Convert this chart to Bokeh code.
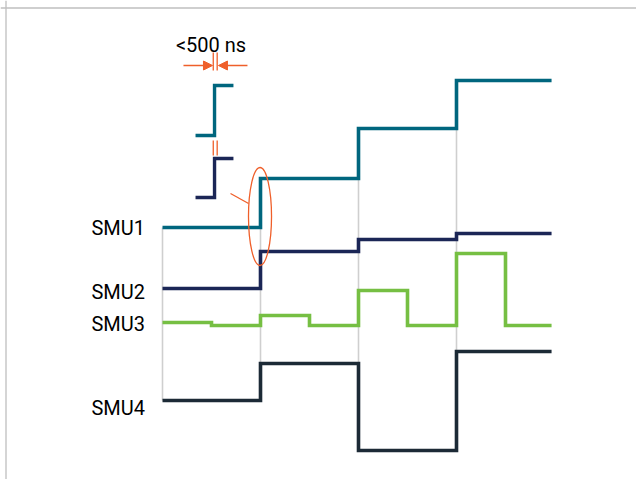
from bokeh.plotting import figure
from bokeh.models import Range1d, Span, Arrow, NormalHead
from bokeh.core.properties import value
from bokeh.embed import file_html
from bokeh.resources import INLINE

# ---- data (time in step units, level in arbitrary units) ----
t_edges = [0, 1, 2, 3, 3.97]
smu1 = [26.0, 30.9, 35.9, 40.7]
smu2 = [19.9, 23.6, 24.8, 25.4]
smu4 = [8.7, 12.4, 3.7, 13.6]
t_half = [0, 0.5, 1, 1.5, 2, 2.5, 3, 3.5, 3.97]
smu3 = [16.5, 16.2, 17.2, 16.2, 19.7, 16.2, 23.4, 16.2]

labels = ["SMU1", "SMU2", "SMU3", "SMU4"]
label_y = [25.95, 19.55, 16.37, 7.95]

# inset illustrating skew between channels
inset_t = [0.337, 0.531, 0.531, 0.724]
inset_a = [35.2, 35.2, 40.2, 40.2]
inset_b = [29.0, 29.0, 32.9, 32.9]
skew_label = "<500 ns"

TEAL = "#00667e"
NAVY = "#1b2656"
GREEN = "#76bf43"
DARK = "#1c2a36"
ORANGE = "#ef5f2a"
GRID = "#cfcfcf"

W, H = 636, 479
X0 = (0 - 162) / 98
p = figure(width=W, height=H, output_backend="svg", toolbar_location=None,
           x_range=Range1d(X0, X0 + W / 98),
           y_range=Range1d((487 - H) / 10, 48.7),
           x_axis_location=None, y_axis_location=None, min_border=0)
p.grid.visible = False
p.outline_line_color = None
p.background_fill_color = "white"

# frame
p.add_layout(Span(location=(5.5 - 162) / 98, dimension="height", line_color="#bfbfbf", line_width=1.3))
p.add_layout(Span(location=(487 - 7.5) / 10, dimension="width", line_color="#bfbfbf", line_width=1.3))

# gray time markers
gx = t_edges[:4]
y0 = [smu1[max(i - 1, 0)] for i in range(4)]
y1 = [smu4[i] for i in range(4)]
p.segment(x0=gx, y0=y0, x1=gx, y1=y1, line_color=GRID, line_width=1.6)

def step(t, v, color):
    p.step(x=t, y=v + [v[-1]], mode="after", line_color=color, line_width=3.6,
           line_join="miter", line_cap="butt")

step(t_edges, smu1, TEAL)
step(t_edges, smu2, NAVY)
step(t_half, smu3, GREEN)
step(t_edges, smu4, DARK)

# labels
p.text(x=[-0.7245] * 4, y=label_y, text=labels, text_font=value("Roboto"),
       text_font_size="20px", text_baseline="middle", text_align="left",
       text_color="#000000")

# inset
p.line(x=inset_t, y=inset_a, line_color=TEAL, line_width=3.4, line_join="miter")
p.line(x=inset_t, y=inset_b, line_color=NAVY, line_width=3.4, line_join="miter")

# orange markers
ox = [0.518, 0.558]
p.segment(x0=ox, y0=[43.5, 43.5], x1=ox, y1=[41.7, 41.7], line_color=ORANGE, line_width=1.3)
p.segment(x0=ox, y0=[34.7, 34.7], x1=ox, y1=[33.2, 33.2], line_color=ORANGE, line_width=1.3)
p.add_layout(Arrow(end=NormalHead(size=9, fill_color=ORANGE, line_color=ORANGE),
                   x_start=0.214, y_start=42.2, x_end=0.510, y_end=42.2,
                   line_color=ORANGE, line_width=1.3))
p.add_layout(Arrow(end=NormalHead(size=9, fill_color=ORANGE, line_color=ORANGE),
                   x_start=0.867, y_start=42.2, x_end=0.571, y_end=42.2,
                   line_color=ORANGE, line_width=1.3))
p.text(x=[0.495], y=[44.25], text=[skew_label], text_font=value("Roboto"),
       text_font_size="20px", text_baseline="middle", text_align="center",
       text_color="#000000")

p.ellipse(x=[0.995], y=[27.1], width=[0.235], height=[9.8], fill_color=None,
          line_color=ORANGE, line_width=1.3)
p.segment(x0=[0.694], y0=[29.4], x1=[0.878], y1=[28.4], line_color=ORANGE, line_width=1.3)

open("out.html", "w").write(file_html(p, INLINE))
